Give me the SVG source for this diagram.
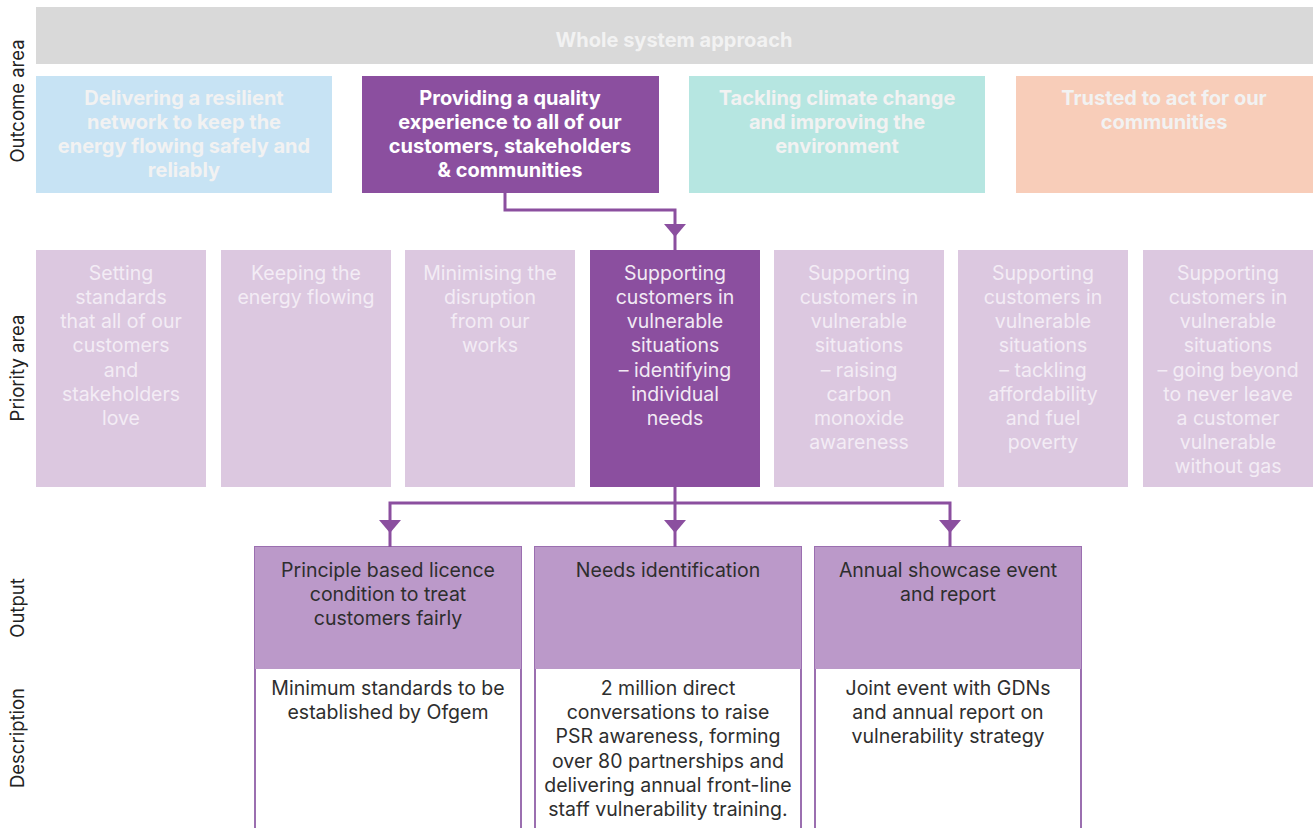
<svg xmlns="http://www.w3.org/2000/svg" xmlns:xlink="http://www.w3.org/1999/xlink" width="1316" height="828" viewBox="0 0 1316 828">
  <style>
    .lbl { font-family: Inter, "Liberation Sans", sans-serif; font-size: 18.5px; fill: #222; text-anchor: middle; }
    .oc { font-family: Inter, "Liberation Sans", sans-serif; font-size: 20px; font-weight: 700; text-anchor: middle; fill: #F2F2F2; }
    .oc-on { fill: #FFFFFF; }
    .pr { font-family: Inter, "Liberation Sans", sans-serif; font-size: 19.5px; text-anchor: middle; fill: #F3ECF5; }
    .pr-on { fill: #F2EAF4; }
    .out { font-family: Inter, "Liberation Sans", sans-serif; font-size: 19.5px; text-anchor: middle; fill: #2E2E2E; }
    .conn { fill: none; stroke: #8B4F9F; stroke-width: 3; }
    .head { fill: #8B4F9F; }
    .pbox { fill: #DCC8E0; }
    .obox-h { fill: #BB99C9; }
    .obox-b { fill: #FFFFFF; stroke: #9B6FB0; stroke-width: 2; }
  </style>
  <defs>
    <path id="tri" d="M-11,0 L11,0 L0,13 Z"/>
  </defs>

  <rect width="1316" height="828" fill="#FFFFFF"/>

  <!-- row labels -->
  <g id="row-labels">
    <text class="lbl" transform="translate(24,101) rotate(-90)">Outcome area</text>
    <text class="lbl" transform="translate(24,368) rotate(-90)">Priority area</text>
    <text class="lbl" transform="translate(24,608) rotate(-90)">Output</text>
    <text class="lbl" transform="translate(24,738) rotate(-90)">Description</text>
  </g>

  <!-- whole system band -->
  <g id="whole-system">
    <rect x="36" y="7" width="1277" height="57" fill="#D9D9D9"/>
    <text class="oc" x="674" y="47">Whole system approach</text>
  </g>

  <!-- outcome areas -->
  <g id="outcome-resilient">
    <rect x="36" y="76" width="296" height="117" fill="#C7E3F4"/>
    <text class="oc"><tspan x="184" y="105">Delivering a resilient</tspan><tspan x="184" y="129">network to keep the</tspan><tspan x="184" y="153">energy flowing safely and</tspan><tspan x="184" y="177">reliably</tspan></text>
  </g>
  <g id="outcome-quality">
    <rect x="362" y="76" width="297" height="117" fill="#8B4F9F"/>
    <text class="oc oc-on"><tspan x="510" y="105">Providing a quality</tspan><tspan x="510" y="129">experience to all of our</tspan><tspan x="510" y="153">customers, stakeholders</tspan><tspan x="510" y="177">&amp; communities</tspan></text>
  </g>
  <g id="outcome-climate">
    <rect x="689" y="76" width="296" height="117" fill="#B6E6E1"/>
    <text class="oc"><tspan x="837" y="105">Tackling climate change</tspan><tspan x="837" y="129">and improving the</tspan><tspan x="837" y="153">environment</tspan></text>
  </g>
  <g id="outcome-trusted">
    <rect x="1016" y="76" width="297" height="117" fill="#F8CDB9"/>
    <text class="oc"><tspan x="1164" y="105">Trusted to act for our</tspan><tspan x="1164" y="129">communities</tspan></text>
  </g>

  <!-- priority areas -->
  <g id="priority-standards">
    <rect class="pbox" x="36" y="250" width="170" height="237"/>
    <text class="pr"><tspan x="121" y="280">Setting</tspan><tspan x="121" y="304">standards</tspan><tspan x="121" y="328">that all of our</tspan><tspan x="121" y="352">customers</tspan><tspan x="121" y="377">and</tspan><tspan x="121" y="401">stakeholders</tspan><tspan x="121" y="425">love</tspan></text>
  </g>
  <g id="priority-energy">
    <rect class="pbox" x="221" y="250" width="170" height="237"/>
    <text class="pr"><tspan x="306" y="280">Keeping the</tspan><tspan x="306" y="304">energy flowing</tspan></text>
  </g>
  <g id="priority-disruption">
    <rect class="pbox" x="405" y="250" width="170" height="237"/>
    <text class="pr"><tspan x="490" y="280">Minimising the</tspan><tspan x="490" y="304">disruption</tspan><tspan x="490" y="328">from our</tspan><tspan x="490" y="352">works</tspan></text>
  </g>
  <g id="priority-needs">
    <rect x="590" y="250" width="170" height="237" fill="#8B4F9F"/>
    <text class="pr pr-on"><tspan x="675" y="280">Supporting</tspan><tspan x="675" y="304">customers in</tspan><tspan x="675" y="328">vulnerable</tspan><tspan x="675" y="352">situations</tspan><tspan x="675" y="377">– identifying</tspan><tspan x="675" y="401">individual</tspan><tspan x="675" y="425">needs</tspan></text>
  </g>
  <g id="priority-carbon">
    <rect class="pbox" x="774" y="250" width="170" height="237"/>
    <text class="pr"><tspan x="859" y="280">Supporting</tspan><tspan x="859" y="304">customers in</tspan><tspan x="859" y="328">vulnerable</tspan><tspan x="859" y="352">situations</tspan><tspan x="859" y="377">– raising</tspan><tspan x="859" y="401">carbon</tspan><tspan x="859" y="425">monoxide</tspan><tspan x="859" y="449">awareness</tspan></text>
  </g>
  <g id="priority-affordability">
    <rect class="pbox" x="958" y="250" width="170" height="237"/>
    <text class="pr"><tspan x="1043" y="280">Supporting</tspan><tspan x="1043" y="304">customers in</tspan><tspan x="1043" y="328">vulnerable</tspan><tspan x="1043" y="352">situations</tspan><tspan x="1043" y="377">– tackling</tspan><tspan x="1043" y="401">affordability</tspan><tspan x="1043" y="425">and fuel</tspan><tspan x="1043" y="449">poverty</tspan></text>
  </g>
  <g id="priority-beyond">
    <rect class="pbox" x="1143" y="250" width="170" height="237"/>
    <text class="pr"><tspan x="1228" y="280">Supporting</tspan><tspan x="1228" y="304">customers in</tspan><tspan x="1228" y="328">vulnerable</tspan><tspan x="1228" y="352">situations</tspan><tspan x="1228" y="377">– going beyond</tspan><tspan x="1228" y="401">to never leave</tspan><tspan x="1228" y="425">a customer</tspan><tspan x="1228" y="449">vulnerable</tspan><tspan x="1228" y="473">without gas</tspan></text>
  </g>

  <!-- outputs with descriptions -->
  <g id="output-licence">
    <rect class="obox-b" x="255" y="547" width="266" height="290"/>
    <rect class="obox-h" x="255" y="547" width="266" height="122"/>
    <text class="out"><tspan x="388" y="577">Principle based licence</tspan><tspan x="388" y="601">condition to treat</tspan><tspan x="388" y="625">customers fairly</tspan></text>
    <text class="out"><tspan x="388" y="695">Minimum standards to be</tspan><tspan x="388" y="719">established by Ofgem</tspan></text>
  </g>
  <g id="output-needs">
    <rect class="obox-b" x="535" y="547" width="266" height="290"/>
    <rect class="obox-h" x="535" y="547" width="266" height="122"/>
    <text class="out"><tspan x="668" y="577">Needs identification</tspan></text>
    <text class="out"><tspan x="668" y="695">2 million direct</tspan><tspan x="668" y="719">conversations to raise</tspan><tspan x="668" y="743">PSR awareness, forming</tspan><tspan x="668" y="768">over 80 partnerships and</tspan><tspan x="668" y="792">delivering annual front-line</tspan><tspan x="668" y="816">staff vulnerability training.</tspan></text>
  </g>
  <g id="output-showcase">
    <rect class="obox-b" x="815" y="547" width="266" height="290"/>
    <rect class="obox-h" x="815" y="547" width="266" height="122"/>
    <text class="out"><tspan x="948" y="577">Annual showcase event</tspan><tspan x="948" y="601">and report</tspan></text>
    <text class="out"><tspan x="948" y="695">Joint event with GDNs</tspan><tspan x="948" y="719">and annual report on</tspan><tspan x="948" y="743">vulnerability strategy</tspan></text>
  </g>

  <!-- connectors -->
  <g id="connectors">
    <path class="conn" d="M505,193 V210 H675 V250"/>
    <use xlink:href="#tri" class="head" x="675" y="224"/>
    <path class="conn" d="M675,487 V547 M390,547 V503 H950 V547"/>
    <use xlink:href="#tri" class="head" x="390" y="520"/>
    <use xlink:href="#tri" class="head" x="675" y="520"/>
    <use xlink:href="#tri" class="head" x="950" y="520"/>
  </g>
</svg>
